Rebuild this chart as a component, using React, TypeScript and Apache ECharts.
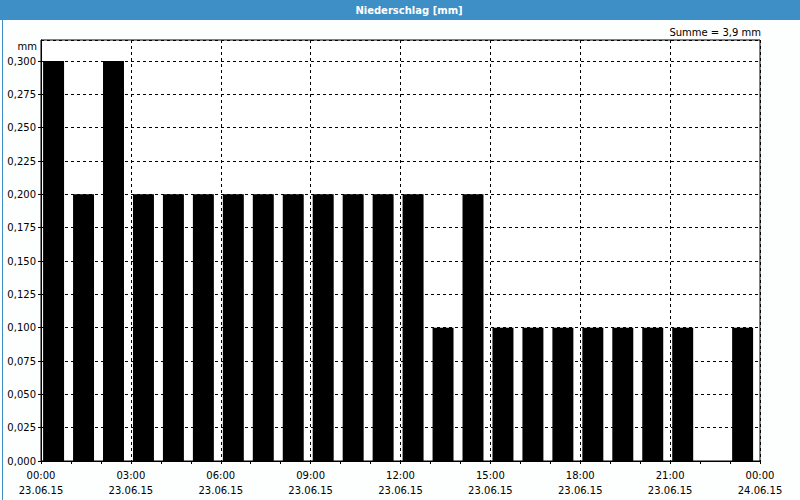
import React, { useEffect, useRef } from "react";
import * as echarts from "echarts";

const hours = [0, 1, 2, 3, 4, 5, 6, 7, 8, 9, 10, 11, 12, 13, 14, 15, 16, 17, 18, 19, 20, 21, 22, 23];
const rain = [0.3, 0.2, 0.3, 0.2, 0.2, 0.2, 0.2, 0.2, 0.2, 0.2, 0.2, 0.2, 0.2, 0.1, 0.2, 0.1, 0.1, 0.1, 0.1, 0.1, 0.1, 0.1, 0, 0.1];
const titleText = "Niederschlag [mm]";
const sumText = "Summe = 3,9 mm";
const unitText = "mm";

const FONT = "DejaVu Sans";

export default function App() {
  const ref = useRef<HTMLDivElement>(null);
  useEffect(() => {
    const chart = echarts.init(ref.current!, null, { renderer: "svg" });
    const data = hours.map((h, i) => [h, rain[i]]);
    chart.setOption({
      animation: false,
      backgroundColor: "#fdfefe",
      textStyle: { fontFamily: FONT },
      grid: {
        left: 41,
        top: 40,
        right: 40,
        bottom: 39,
        show: true,
        backgroundColor: "#ffffff",
        borderColor: "#000000",
        borderWidth: 1,
      },
      xAxis: {
        type: "value",
        min: 0,
        max: 24,
        interval: 3,
        axisLine: { show: true, lineStyle: { color: "#000", width: 1 } },
        axisTick: { show: true, length: 3, lineStyle: { color: "#000" } },
        minorTick: { show: true, splitNumber: 3, length: 3, lineStyle: { color: "#000" } },
        splitLine: { show: true, lineStyle: { color: "#000", type: [3, 3], width: 1 } },
        axisLabel: {
          color: "#000",
          fontFamily: FONT,
          fontSize: 10,
          lineHeight: 15,
          margin: 7,
          formatter: (v: number) => {
            const d = v >= 24 ? "24.06.15" : "23.06.15";
            const hh = v % 24;
            return (hh < 10 ? "0" : "") + hh + ":00\n" + d;
          },
        },
      },
      yAxis: {
        type: "value",
        min: 0,
        max: 0.31575,
        interval: 0.025,
        axisLine: { show: true, lineStyle: { color: "#000", width: 1 } },
        axisTick: { show: true, length: 3, lineStyle: { color: "#000" } },
        splitLine: { show: true, lineStyle: { color: "#000", type: [3, 3], width: 1 } },
        axisLabel: {
          color: "#000",
          fontFamily: FONT,
          fontSize: 10,
          margin: 5,
          showMaxLabel: false,
          formatter: (v: number) => (v > 0.3001 ? "" : v.toFixed(3).replace(".", ",")),
        },
      },
      series: [
        {
          type: "custom",
          data,
          renderItem: (params: any, api: any) => {
            const h = api.value(0);
            const v = api.value(1);
            if (!(v > 0)) return null;
            const p0 = api.coord([h + 0.07, v]);
            const p1 = api.coord([h + 0.77, 0]);
            return {
              type: "rect",
              shape: { x: p0[0], y: p0[1], width: p1[0] - p0[0], height: p1[1] - p0[1] },
              style: { fill: "#000000" },
            };
          },
          z: 1,
        },
      ],
      graphic: [
        { type: "rect", left: 0, top: 0, shape: { width: 800, height: 20 }, style: { fill: "#3d8fc6" } },
        { type: "rect", left: 0, top: 0, shape: { width: 799, height: 499 }, style: { fill: "none", stroke: "#3d8fc6", lineWidth: 1 } },
        {
          type: "text",
          x: 409,
          y: 10,
          style: { text: titleText, fill: "#fff", font: "bold 10px 'DejaVu Sans'", align: "center", verticalAlign: "middle" },
        },
        {
          type: "text",
          x: 761,
          y: 32,
          style: { text: sumText, fill: "#000", font: "10px 'DejaVu Sans'", align: "right", verticalAlign: "middle" },
        },
        {
          type: "text",
          x: 37,
          y: 46,
          style: { text: unitText, fill: "#000", font: "10px 'DejaVu Sans'", align: "right", verticalAlign: "middle" },
        },
      ],
    });
    return () => chart.dispose();
  }, []);
  return <div ref={ref} style={{ position: "fixed", left: 0, top: 0, width: 800, height: 500 }} />;
}
